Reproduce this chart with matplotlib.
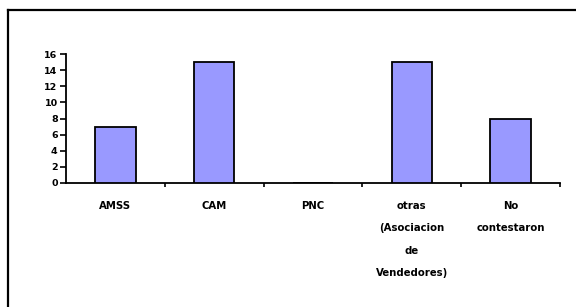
import matplotlib.pyplot as plt
import numpy as np
from matplotlib.lines import Line2D

categorias = ['AMSS', 'CAM', 'PNC', 'otras\n(Asociacion\nde\nVendedores)', 'No\ncontestaron']
valores = [7, 15, 0, 15, 8]
y_ticks = [0, 2, 4, 6, 8, 10, 12, 14, 16]

fig = plt.figure(figsize=(5.76, 3.07), dpi=100)
ax = fig.add_axes([66/576, 1-183/307, (560-66)/576, (183-54)/307])

x = np.arange(len(categorias))
ax.bar(x, valores, width=0.41, color='#9999FF', edgecolor='black', linewidth=1.3, zorder=3)

ax.set_xlim(-0.5, len(categorias)-0.5)
ax.set_ylim(0, 16)
ax.set_yticks(y_ticks)
ax.set_yticklabels([str(v) for v in y_ticks], fontsize=6.8, fontweight='bold')
ax.tick_params(axis='y', direction='out', length=4, width=1.2, pad=2)

ax.set_xticks(x)
ax.set_xticklabels(categorias, fontsize=7.3, fontweight='bold', linespacing=2.55, va='top')
ax.tick_params(axis='x', which='major', length=0, pad=13)
ax.set_xticks(np.arange(0.5, len(categorias), 1), minor=True)
ax.tick_params(axis='x', which='minor', direction='out', length=3, width=1.2)

for s in ['top', 'right']:
    ax.spines[s].set_visible(False)
for s in ['left', 'bottom']:
    ax.spines[s].set_linewidth(1.3)

# marco del grafico
fig.add_artist(Line2D([8/576, 1.0], [1-10/307, 1-10/307], color='black', linewidth=1.6))
fig.add_artist(Line2D([8/576, 8/576], [0, 1-10/307], color='black', linewidth=1.6))

plt.savefig('out.png', dpi=100)
